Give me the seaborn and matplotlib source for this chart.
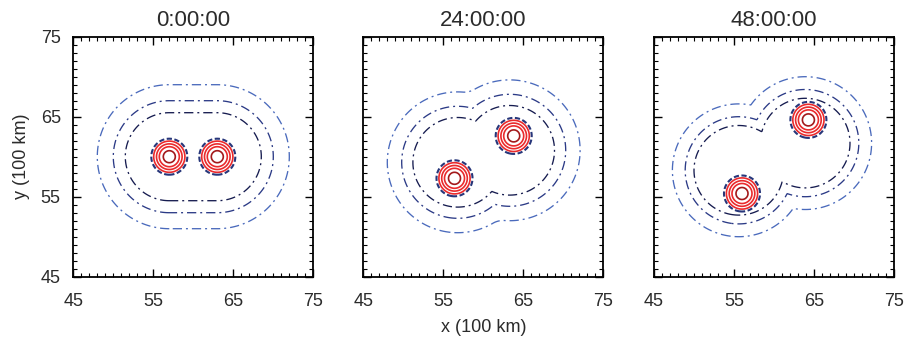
import numpy as np
import matplotlib
matplotlib.use("Agg")
import matplotlib.pyplot as plt
import seaborn as sns

# ---- data ----
times = ["0:00:00", "24:00:00", "48:00:00"]
vortex_a_x = [57.0, 56.4, 56.0]
vortex_a_y = [60.0, 57.3, 55.4]
vortex_b_x = [63.0, 63.8, 64.3]
vortex_b_y = [60.0, 62.6, 64.6]
lobe_a_x = [57.0, 56.8, 55.6]
lobe_a_y = [60.0, 59.3, 58.3]
lobe_b_x = [63.0, 63.3, 63.9]
lobe_b_y = [60.0, 60.8, 61.7]
# envelope contour levels (inner, middle, outer) per panel
env_levels_0 = [5.5, 7.0, 9.0]
env_levels_24 = [5.6, 7.0, 8.8]
env_levels_48 = [5.6, 6.7, 8.3]
# pinch of each envelope contour between the two lobes, per panel
waist_0 = [0.0, 0.0, 0.0]
waist_24 = [3.2, 2.4, 0.5]
waist_48 = [4.0, 3.2, 2.5]
envelope_colors = ["#151b4f", "#2b3a86", "#4a6abc"]
core_radii = [0.75, 1.25, 1.6, 1.95]
core_colors = ["#a3191b", "#ea2a2c", "#ea2a2c", "#ea2a2c"]
ring_radius = [2.25]
ticks = [45, 55, 65, 75]

env_levels = [env_levels_0, env_levels_24, env_levels_48]
waists = [waist_0, waist_24, waist_48]

sns.set_theme(style="white")
plt.rcParams["font.family"] = ["Liberation Sans", "DejaVu Sans"]

fig = plt.figure(figsize=(9.09, 3.40), dpi=100)
lefts = [73.3 / 909, 363.3 / 909, 654 / 909]
bottom = (340 - 276.7) / 340
w_ax = 240 / 909
h_ax = 240 / 340

gx = np.linspace(45, 75, 361)
X, Y = np.meshgrid(gx, gx)
tt = np.linspace(0, 1, 51)
dash = (0, (7, 3, 1.5, 3))
txt = "#2b2b2b"

for i, t in enumerate(times):
    ax = fig.add_axes([lefts[i], bottom, w_ax, h_ax])
    for lev, wst, col in zip(env_levels[i], waists[i], envelope_colors):
        env = np.full(X.shape, np.inf)
        for s in tt:
            cx = lobe_a_x[i] + s * (lobe_b_x[i] - lobe_a_x[i])
            cy = lobe_a_y[i] + s * (lobe_b_y[i] - lobe_a_y[i])
            d = np.hypot(X - cx, Y - cy) + wst * 4 * s * (1 - s)
            env = np.minimum(env, d)
        ax.contour(X, Y, env, levels=[lev], colors=[col],
                   linewidths=0.95, linestyles=[dash])
    # vortex cores
    r = np.minimum(np.hypot(X - vortex_a_x[i], Y - vortex_a_y[i]),
                   np.hypot(X - vortex_b_x[i], Y - vortex_b_y[i]))
    ax.contour(X, Y, r, levels=ring_radius, colors=["#27367a"],
               linewidths=1.5, linestyles=[(0, (2.5, 1.2))])
    ax.contour(X, Y, r, levels=core_radii, colors=core_colors,
               linewidths=1.2, linestyles="solid")

    ax.set_xlim(45, 75)
    ax.set_ylim(45, 75)
    ax.set_xticks(ticks)
    ax.set_yticks(ticks)
    ax.set_xticks(np.arange(45, 76, 1), minor=True)
    ax.set_yticks(np.arange(45, 76, 1), minor=True)
    ax.tick_params(which="both", direction="in", top=True, right=True,
                   bottom=True, left=True, color="black")
    ax.tick_params(which="major", length=6, width=1.0, labelsize=13,
                   labelcolor=txt, pad=9)
    ax.tick_params(which="minor", length=3, width=0.8)
    ax.tick_params(axis="x", which="major", pad=12)
    if i > 0:
        ax.set_yticklabels([])
    for sp in ax.spines.values():
        sp.set_color("black")
        sp.set_linewidth(1.3)
    ax.set_title(t, fontsize=16, color=txt, pad=8)
    if i == 0:
        ax.set_ylabel("y (100 km)", fontsize=13, color=txt, labelpad=8)
    if i == 1:
        ax.set_xlabel("x (100 km)", fontsize=13, color=txt, labelpad=6)

fig.savefig("out.png", dpi=100)
